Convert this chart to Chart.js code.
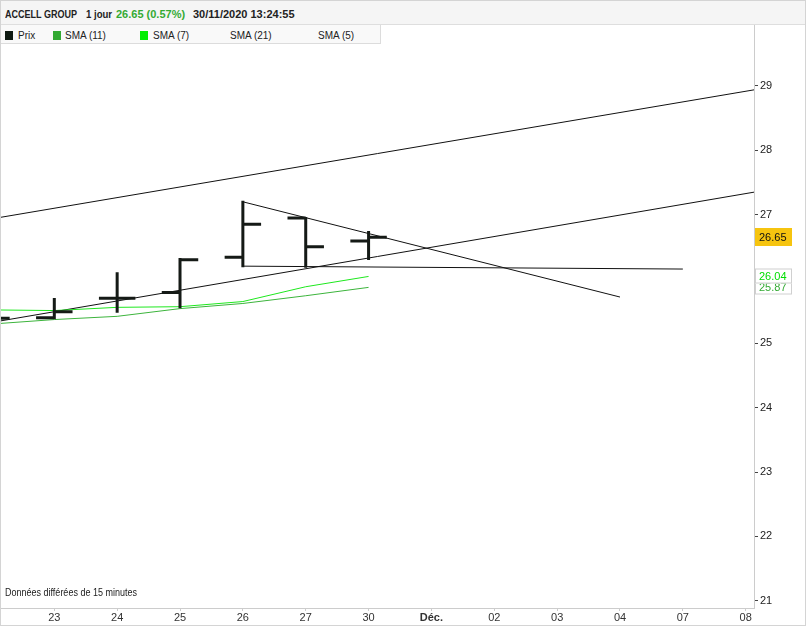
<!DOCTYPE html>
<html><head><meta charset="utf-8">
<script src="https://cdn.jsdelivr.net/npm/chart.js@4.4.1/dist/chart.umd.min.js"></script>
<style>
html,body{margin:0;padding:0;background:#fff;}
#wrap{position:relative;width:806px;height:626px;overflow:hidden;font-family:"Liberation Sans",Arial,sans-serif;}
#c{position:absolute;left:0;top:0;}
#frame{position:absolute;left:0;top:0;width:806px;height:626px;box-sizing:border-box;border:1px solid #d4d4d4;pointer-events:none;}
#head{position:absolute;left:0;top:0;width:806px;height:25px;background:#f5f5f5;border-bottom:1px solid #dedede;box-sizing:border-box;font-weight:bold;font-size:11px;color:#222;}
#head span{position:absolute;top:8px;white-space:nowrap;display:inline-block;transform-origin:left center;}
.cell{position:absolute;top:25px;height:19px;background:#f9f9f9;border-right:1px solid #dcdcdc;border-bottom:1px solid #dcdcdc;box-sizing:border-box;font-size:10px;color:#222;}
.cell .sw{position:absolute;left:5px;top:6px;width:8px;height:9px;}
.cell .tx{position:absolute;top:5px;white-space:nowrap;}
#note{position:absolute;left:5px;top:587px;font-size:10px;color:#222;white-space:nowrap;transform:scaleX(0.9);transform-origin:left center;}
</style></head>
<body>
<div id="wrap">
<canvas id="c" width="806" height="626"></canvas>
<div id="head">
 <span style="left:5px;transform:scaleX(0.82);">ACCELL GROUP</span>
 <span style="left:86px;transform:scaleX(0.87);">1 jour</span>
 <span style="left:116px;color:#33aa33;">26.65 (0.57%)</span>
 <span style="left:193px;">30/11/2020 13:24:55</span>
</div>
<div class="cell" style="left:0;width:49px;"><div class="sw" style="background:#0f1a12;"></div><div class="tx" style="left:18px;">Prix</div></div>
<div class="cell" style="left:48px;width:90px;"><div class="sw" style="background:#33aa33;"></div><div class="tx" style="left:17px;">SMA (11)</div></div>
<div class="cell" style="left:137px;width:77px;"><div class="sw" style="left:3px;background:#00ee00;"></div><div class="tx" style="left:16px;">SMA (7)</div></div>
<div class="cell" style="left:213px;width:90px;"><div class="tx" style="left:17px;">SMA (21)</div></div>
<div class="cell" style="left:302px;width:79px;"><div class="tx" style="left:16px;">SMA (5)</div></div>
<div id="note">Données différées de 15 minutes</div>
<div id="frame"></div>
</div>
<script>
// ---- data ----
const dayIdx = [-1, 0, 1, 2, 3, 4, 5];          // 22,23,24,25,26,27,30 nov
const openV  = [25.38, 25.40, 25.70, 25.79, 26.34, 26.95, 26.59];
const highV  = [25.45, 25.69, 26.09, 26.31, 27.20, 26.95, 26.73];
const lowV   = [25.30, 25.39, 25.49, 25.56, 26.20, 26.19, 26.31];
const closeV = [25.39, 25.49, 25.70, 26.30, 26.85, 26.50, 26.65];
const sma7   = [25.52, 25.51, 25.56, 25.57, 25.65, 25.88, 26.04];
const sma11  = [25.30, 25.37, 25.42, 25.54, 25.62, 25.74, 25.87];
const trendUpper = [[-0.848, 26.96], [11.132, 28.94]];
const trendLower = [[-0.848, 25.35], [11.132, 27.35]];
const trendDown  = [[3, 27.20], [9, 25.72]];
const trendFlat  = [[3, 26.20], [10, 26.155]];
const xTickLabels = ['23','24','25','26','27','30','Déc.','02','03','04','07','08'];
const yTickValues = [21, 22, 23, 24, 25, 26, 27, 28, 29];

const pts = (xs, ys) => xs.map((x, i) => ({x: x, y: ys[i]}));
const seg = a => a.map(p => ({x: p[0], y: p[1]}));
const FONT = '"Liberation Sans", Arial, sans-serif';

const lineDs = (data, color, w) => ({
  type: 'line', data: data, borderColor: color, borderWidth: w || 1,
  pointRadius: 0, tension: 0, fill: false, clip: 0
});

const ohlcPlugin = {
  id: 'ohlc',
  afterDatasetsDraw(chart) {
    const {ctx, chartArea: a, scales: {x, y}} = chart;
    ctx.save();
    ctx.beginPath(); ctx.rect(a.left, a.top, a.right - a.left, a.bottom - a.top); ctx.clip();
    ctx.strokeStyle = '#151a16'; ctx.lineWidth = 3; ctx.lineCap = 'butt';
    const tick = x.getPixelForValue(0.29) - x.getPixelForValue(0);
    dayIdx.forEach((d, i) => {
      const px = x.getPixelForValue(d);
      ctx.beginPath();
      ctx.moveTo(px, y.getPixelForValue(highV[i]) - 1);
      ctx.lineTo(px, y.getPixelForValue(lowV[i]) + 1);
      const yo = y.getPixelForValue(openV[i]);
      ctx.moveTo(px - tick, yo); ctx.lineTo(px, yo);
      const yc = y.getPixelForValue(closeV[i]);
      ctx.moveTo(px, yc); ctx.lineTo(px + tick, yc);
      ctx.stroke();
    });
    ctx.restore();
  }
};

const tagPlugin = {
  id: 'tags',
  afterDraw(chart) {
    const {ctx, chartArea: a, scales: {y}} = chart;
    const tags = [
      {v: sma11[sma11.length - 1], bg: '#ffffff', bd: '#d0d0d0', fg: '#33aa33', h: 15},
      {v: sma7[sma7.length - 1], bg: '#ffffff', bd: '#d0d0d0', fg: '#00dd00', h: 15},
      {v: closeV[closeV.length - 1], bg: '#f6c40f', bd: '#f6c40f', fg: '#111', h: 18}
    ];
    ctx.save();
    ctx.font = '11px ' + FONT;
    ctx.textBaseline = 'middle';
    tags.forEach(t => {
      const py = Math.round(y.getPixelForValue(t.v));
      ctx.fillStyle = t.bg;
      ctx.fillRect(a.right + 1, py - t.h / 2, 37, t.h);
      ctx.strokeStyle = t.bd; ctx.lineWidth = 1;
      ctx.strokeRect(a.right + 1.5, py - t.h / 2 + 0.5, 36, t.h - 1);
      ctx.fillStyle = t.fg;
      ctx.fillText(t.v.toFixed(2), a.right + 5, py + 0.5);
    });
    ctx.restore();
  }
};

new Chart(document.getElementById('c'), {
  type: 'line',
  data: {
    datasets: [
      lineDs(pts(dayIdx, sma11), '#3cb43c'),
      lineDs(pts(dayIdx, sma7), '#1ee81e'),
      lineDs(seg(trendUpper), '#111'),
      lineDs(seg(trendLower), '#111'),
      lineDs(seg(trendDown), '#111'),
      lineDs(seg(trendFlat), '#111')
    ]
  },
  options: {
    responsive: false, animation: false, devicePixelRatio: 1,
    layout: {padding: {top: 25, left: 1, right: 0, bottom: 0}},
    plugins: {legend: {display: false}, tooltip: {enabled: false}},
    scales: {
      x: {
        type: 'linear', position: 'bottom', min: -0.848, max: 11.132,
        afterBuildTicks: s => { s.ticks = xTickLabels.map((l, i) => ({value: i})); },
        afterFit: s => { s.height = 18; },
        grid: {drawOnChartArea: false, drawTicks: true, tickLength: 3, color: '#cccccc'},
        border: {display: true, color: '#cccccc'},
        ticks: {
          padding: 0, color: '#333', autoSkip: false, maxRotation: 0,
          callback: (v, i) => xTickLabels[i],
          font: c => ({family: FONT, size: 11, weight: (c.tick && c.tick.label === 'Déc.') ? 'bold' : 'normal'})
        }
      },
      y: {
        type: 'linear', position: 'right', min: 20.887, max: 29.948,
        afterBuildTicks: s => { s.ticks = yTickValues.map(v => ({value: v})); },
        afterFit: s => { s.width = 52; },
        grid: {drawOnChartArea: false, drawTicks: true, tickLength: 4, color: '#444'},
        border: {display: true, color: '#cccccc'},
        ticks: {padding: 2, color: '#222', font: {family: FONT, size: 11}, callback: v => String(v)}
      }
    }
  },
  plugins: [ohlcPlugin, tagPlugin]
});
</script>
</body></html>
